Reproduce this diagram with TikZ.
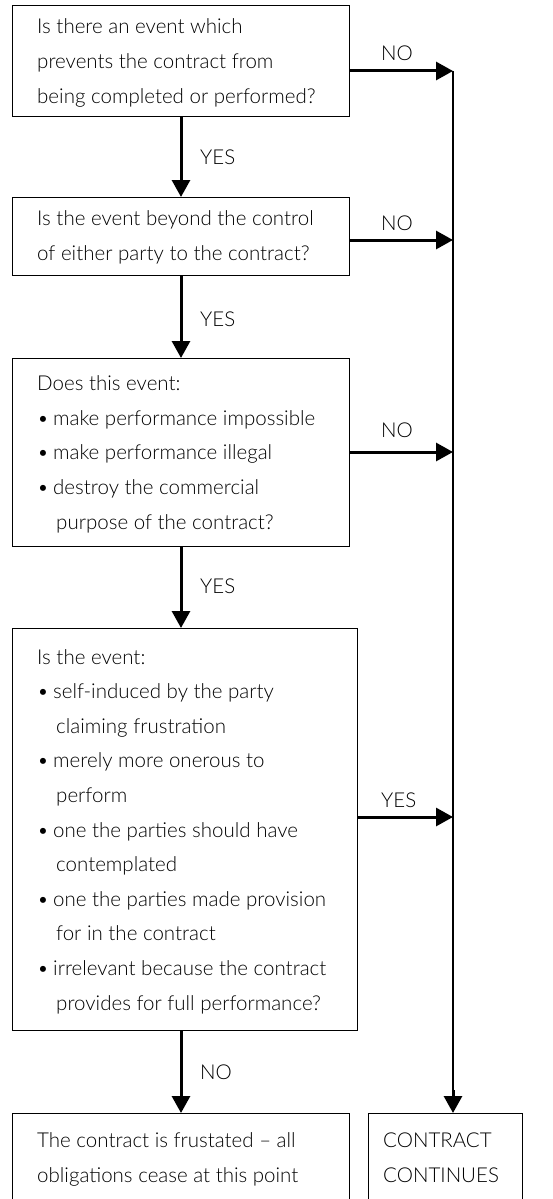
\documentclass[tikz,border=0pt]{standalone}
\usepackage{fontspec}
\setmainfont{Lato}[UprightFont=* Light]
\usetikzlibrary{arrows.meta}

\tikzset{
  box/.style={draw=black, line width=1pt, anchor=north west, inner sep=0pt},
  % texts are placed by the baseline of their last line
  txt/.style={anchor=base west, inner sep=0pt, align=left, text=black,
              font=\fontsize{20.5}{34.6}\selectfont},
  lbl/.style={anchor=base west, inner sep=0pt, text=black,
              font=\fontsize{20.5}{24}\selectfont},
  arr/.style={line width=3pt, -{Triangle[length=17pt,width=18pt]}},
  rail/.style={line width=2.5pt}
}
\newcommand{\bul}{\makebox[16pt][l]{•}}
\newcommand{\cont}{\hspace*{19pt}}

\begin{document}
\begin{tikzpicture}[x=1pt,y=-1pt]
\useasboundingbox (0,0) rectangle (552,1199);

% question boxes
\node[box, minimum width=337pt, minimum height=111pt] (b1) at (12,5) {};
\node[box, minimum width=337pt, minimum height=78pt]  (b2) at (12,197) {};
\node[box, minimum width=337pt, minimum height=188pt] (b3) at (12,358) {};
\node[box, minimum width=345pt, minimum height=402pt] (b4) at (12,628) {};
% outcome boxes (run off the lower edge)
\node[box, minimum width=337pt, minimum height=100pt] (b5) at (12,1113) {};
\node[box, minimum width=154pt, minimum height=100pt] (b6) at (368,1113) {};

% texts
\node[txt] (t1) at (37,103) {Is there an event which\\prevents the contract from\\being completed or performed?};
\node[txt] (t2) at (37,260) {Is the event beyond the control\\of either party to the contract?};
\node[txt] (t3) at (37,529) {Does this event:\\
  \bul make performance impossible\\
  \bul make performance illegal\\
  \bul destroy the commercial\\
  \cont purpose of the contract?};
\node[txt] (t4) at (37,1010) {Is the event:\\
  \bul self-induced by the party\\
  \cont claiming frustration\\
  \bul merely more onerous to\\
  \cont perform\\
  \bul one the parties should have\\
  \cont contemplated\\
  \bul one the parties made provision\\
  \cont for in the contract\\
  \bul irrelevant because the contract\\
  \cont provides for full performance?};
\node[txt] (t5) at (37,1182) {The contract is frustated -- all\\obligations cease at this point};
\node[txt] (t6) at (383,1182) {CONTRACT\\CONTINUES};

% the right-hand rail and where the branches join it
\coordinate (j1) at (453,71);
\coordinate (j2) at (453,240);
\coordinate (j3) at (453,452);
\coordinate (j4) at (453,817);
\draw[rail] (j1) -- (j1 |- 0,1095);
\draw[arr] (j1 |- 0,1090) -- (j1 |- b6.north);

% side branches
\draw[arr] (b1.east |- j1) -- (j1);
\draw[arr] (b2.east |- j2) -- (j2);
\draw[arr] (b3.east |- j3) -- (j3);
\draw[arr] (b4.east |- j4) -- (j4);

% main line
\draw[arr] (b1.south) -- (b2.north);
\draw[arr] (b2.south) -- (b3.north);
\draw[arr] (b3.south) -- (b4.north -| b3.south);
\draw[arr] (b4.south -| b5.north) -- (b5.north);

% labels
\node[lbl] (y1) at (200,164) {YES};
\node[lbl] (y2) at (200,326) {YES};
\node[lbl] (y3) at (200,593) {YES};
\node[lbl] (n4) at (200,1079) {NO};
\node[lbl] (n1) at (381,61) {NO};
\node[lbl] (n2) at (381,230) {NO};
\node[lbl] (n3) at (381,437) {NO};
\node[lbl] (y4) at (381,807) {YES};
\end{tikzpicture}
\end{document}
